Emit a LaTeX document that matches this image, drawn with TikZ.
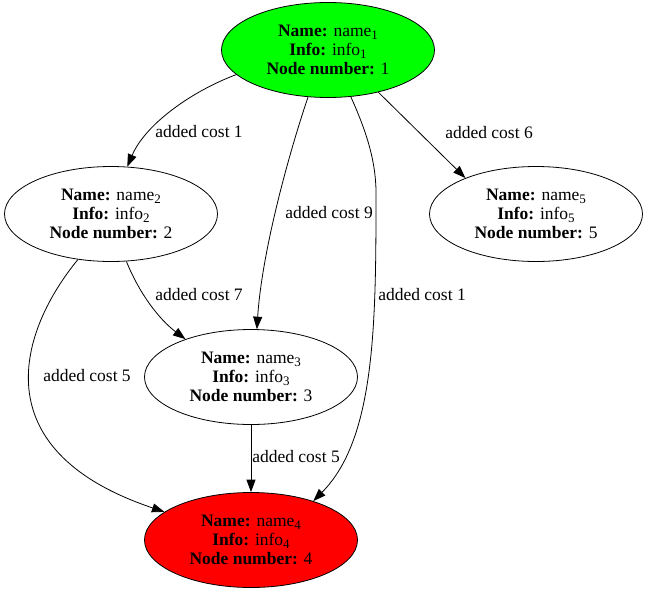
\documentclass[tikz,border=0pt]{standalone}
\usepackage{fontspec}
\setmainfont{Liberation Serif}
\usetikzlibrary{shapes.geometric,arrows.meta}
\definecolor{gvgreen}{HTML}{00FF00}
\definecolor{gvred}{HTML}{FF0000}
\newcommand{\gvsub}[1]{\raisebox{-3pt}[0pt][0pt]{\fontsize{13}{13}\selectfont #1}}
\begin{document}
\begin{tikzpicture}[x=1pt,y=-1pt,
  gnode/.style={ellipse,draw=black,line width=0.8pt,minimum width=213pt,minimum height=95pt,
    inner sep=0pt,align=center,font=\fontsize{17.5}{19}\selectfont},
  edge/.style={draw=black,line width=0.8pt,-{Triangle[length=12.5pt,width=9pt]}},
  elabel/.style={font=\fontsize{17.5}{18.5}\selectfont,inner sep=0pt}]
\useasboundingbox (0,0) rectangle (647,592);
\node[gnode,fill=gvgreen] (n1) at (328,50) {\textbf{Name:} name\gvsub{1}\\\textbf{Info:} info\gvsub{1}\\\textbf{Node number:} 1};
\node[gnode,fill=white] (n2) at (111,214) {\textbf{Name:} name\gvsub{2}\\\textbf{Info:} info\gvsub{2}\\\textbf{Node number:} 2};
\node[gnode,fill=white] (n5) at (536,214) {\textbf{Name:} name\gvsub{5}\\\textbf{Info:} info\gvsub{5}\\\textbf{Node number:} 5};
\node[gnode,fill=white] (n3) at (251,377) {\textbf{Name:} name\gvsub{3}\\\textbf{Info:} info\gvsub{3}\\\textbf{Node number:} 3};
\node[gnode,fill=gvred] (n4) at (251,540) {\textbf{Name:} name\gvsub{4}\\\textbf{Info:} info\gvsub{4}\\\textbf{Node number:} 4};
% edges
\draw[edge] (n1.195) .. controls (190,92) and (145,125) .. (n2.71);
\draw[edge] (n1.247) .. controls (290,150) and (262,250) .. (n3.83);
\draw[edge] (n1.296) .. controls (368,135) and (377,165) .. (376,200) .. controls (376,330) and (374,440) .. (n4.32);
\draw[edge] (n1.320) -- (n5.153);
\draw[edge] (n2.288) .. controls (140,295) and (160,320) .. (n3.150);
\draw[edge] (n2.234) .. controls (20,330) and (-20,450) .. (n4.162);
\draw[edge] (n3.south) -- (n4.north);
% labels
\node[elabel] (l12) at (199,132) {added cost 1};
\node[elabel] (l13) at (329,213) {added cost 9};
\node[elabel] (l14) at (422,295) {added cost 1};
\node[elabel] (l15) at (489,133) {added cost 6};
\node[elabel] (l23) at (199,295) {added cost 7};
\node[elabel] (l24) at (87,376) {added cost 5};
\node[elabel] (l34) at (296,457) {added cost 5};
\end{tikzpicture}
\end{document}
